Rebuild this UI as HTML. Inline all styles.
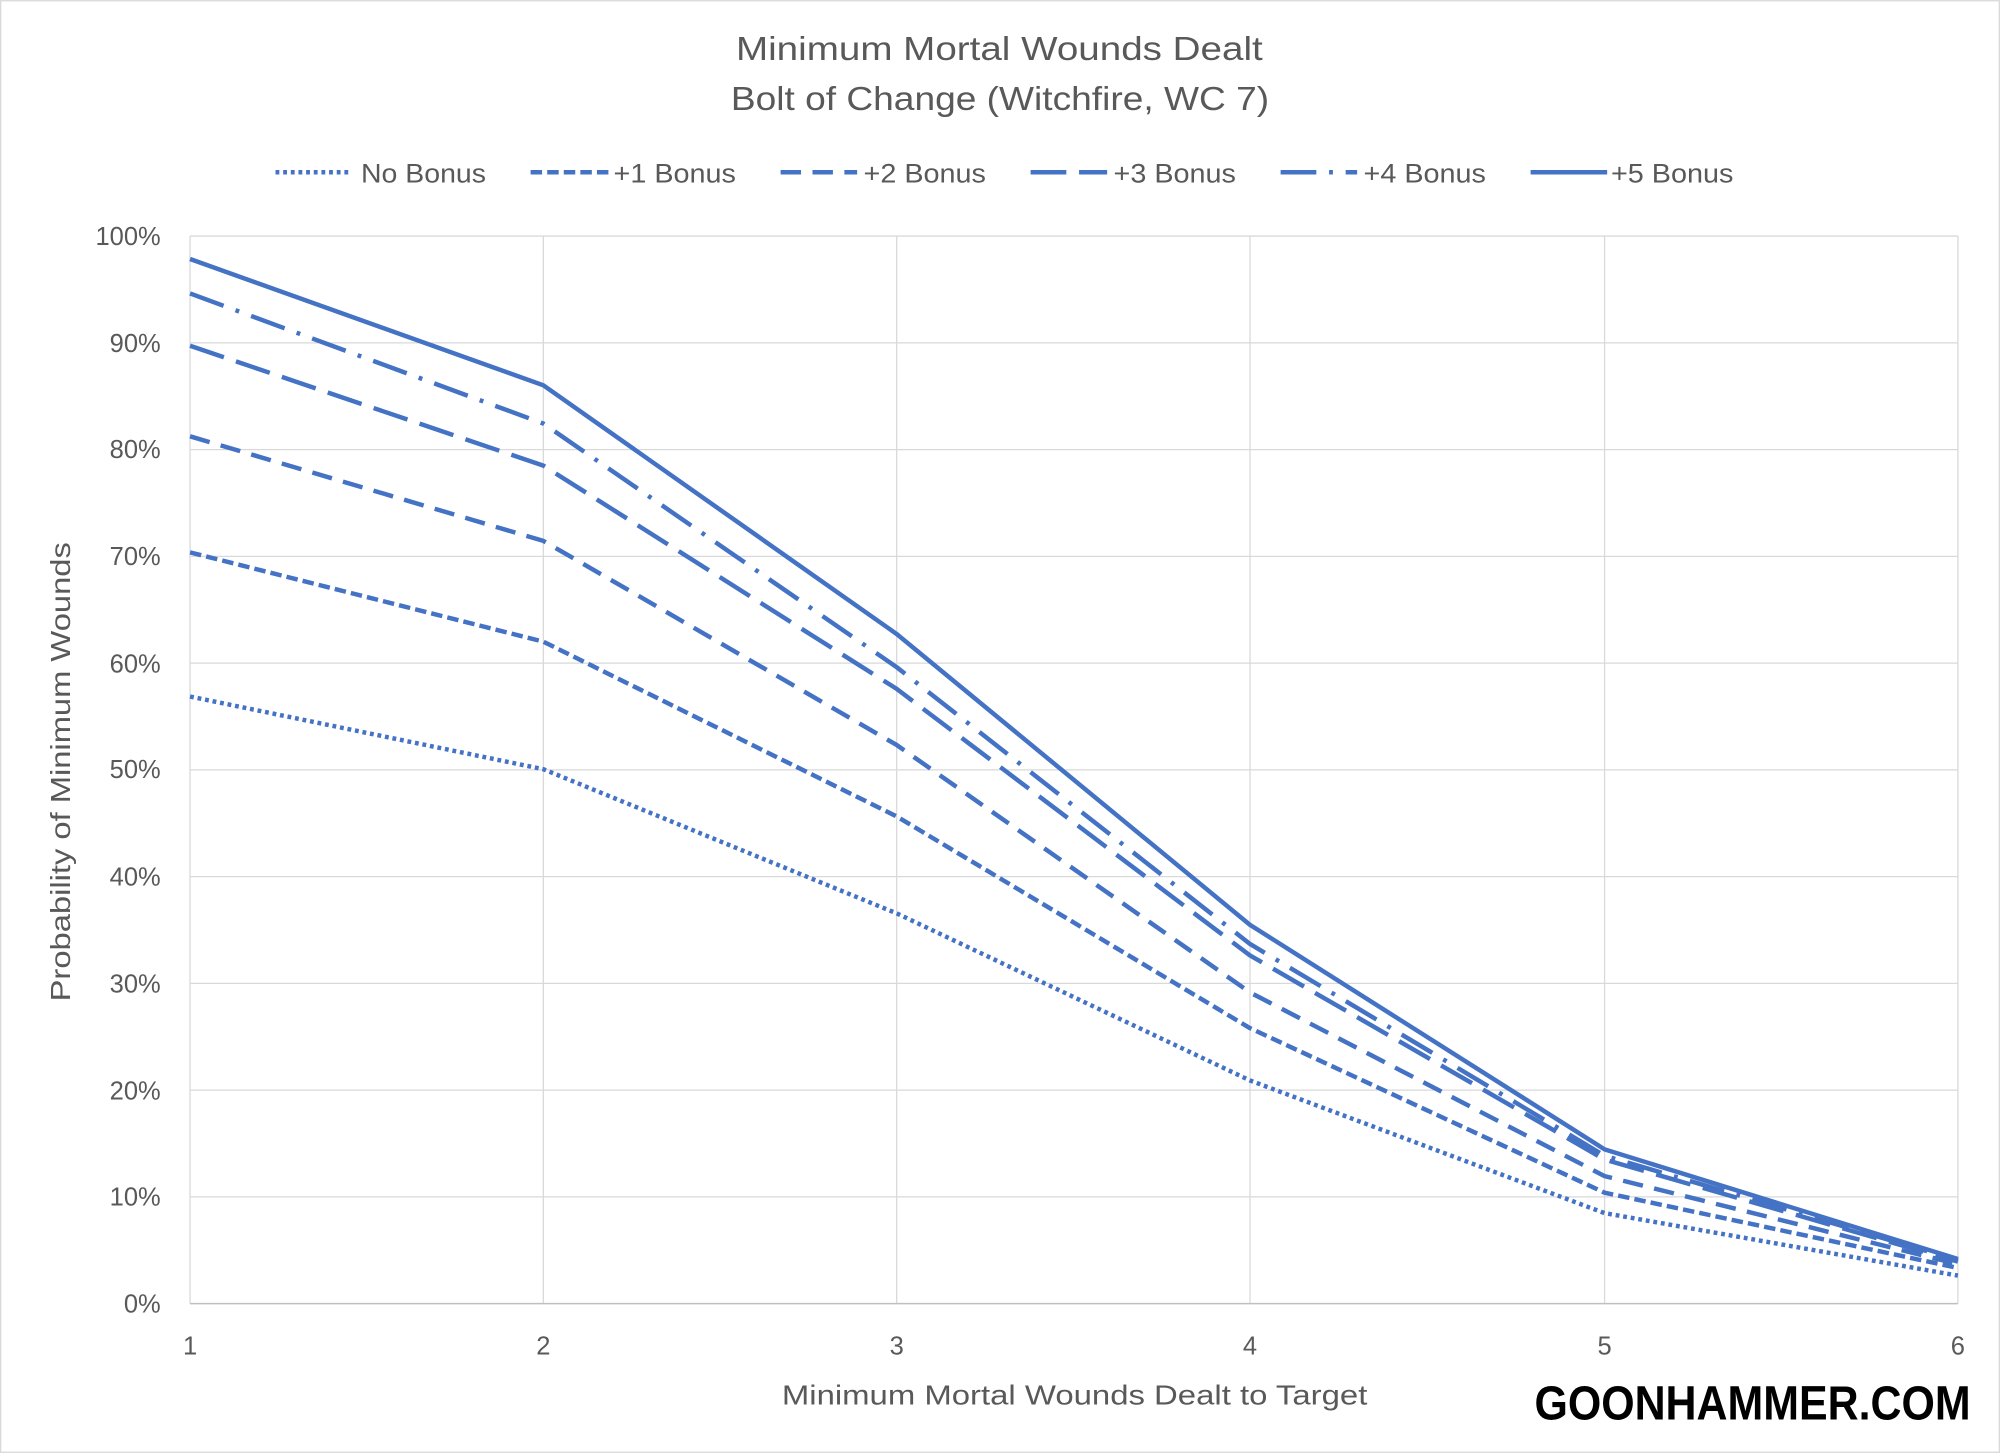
<!DOCTYPE html>
<html><head><meta charset="utf-8"><style>
html,body{margin:0;padding:0;background:#fff;}
svg{display:block;}
text{font-family:"Liberation Sans",sans-serif;fill:#595959;}
</style></head><body>
<svg width="2000" height="1453" viewBox="0 0 1568 1139" xmlns="http://www.w3.org/2000/svg">
<rect x="0.5" y="0.5" width="1567" height="1138" fill="#fff" stroke="#d9d9d9" stroke-width="1"/>
<text x="577" y="47" font-size="26" textLength="413" lengthAdjust="spacingAndGlyphs">Minimum Mortal Wounds Dealt</text>
<text x="573" y="86" font-size="26" textLength="422" lengthAdjust="spacingAndGlyphs">Bolt of Change (Witchfire, WC 7)</text>
<g stroke="#4472C4" stroke-width="3.5" fill="none">
<line x1="216" y1="135" x2="276" y2="135" stroke-dasharray="3,3"/>
<line x1="416" y1="135" x2="478" y2="135" stroke-dasharray="9,4"/>
<line x1="612" y1="135" x2="672" y2="135" stroke-dasharray="16,9"/>
<line x1="808" y1="135" x2="868" y2="135" stroke-dasharray="28,10"/>
<line x1="1004" y1="135" x2="1064" y2="135" stroke-dasharray="28,10,3,10"/>
<line x1="1200" y1="135" x2="1260" y2="135"/>
</g>
<g font-size="21">
<text x="283" y="143" textLength="98" lengthAdjust="spacingAndGlyphs">No Bonus</text>
<text x="481" y="143" textLength="96" lengthAdjust="spacingAndGlyphs">+1 Bonus</text>
<text x="677" y="143" textLength="96" lengthAdjust="spacingAndGlyphs">+2 Bonus</text>
<text x="873" y="143" textLength="96" lengthAdjust="spacingAndGlyphs">+3 Bonus</text>
<text x="1069" y="143" textLength="96" lengthAdjust="spacingAndGlyphs">+4 Bonus</text>
<text x="1263" y="143" textLength="96" lengthAdjust="spacingAndGlyphs">+5 Bonus</text>
</g>
<g stroke="#d9d9d9" stroke-width="1">
<line x1="149" y1="185" x2="1535" y2="185"/>
<line x1="149" y1="268.7" x2="1535" y2="268.7"/>
<line x1="149" y1="352.4" x2="1535" y2="352.4"/>
<line x1="149" y1="436.1" x2="1535" y2="436.1"/>
<line x1="149" y1="519.8" x2="1535" y2="519.8"/>
<line x1="149" y1="603.5" x2="1535" y2="603.5"/>
<line x1="149" y1="687.2" x2="1535" y2="687.2"/>
<line x1="149" y1="770.9" x2="1535" y2="770.9"/>
<line x1="149" y1="854.6" x2="1535" y2="854.6"/>
<line x1="149" y1="938.3" x2="1535" y2="938.3"/>
<line x1="149" y1="185" x2="149" y2="1022"/>
<line x1="426" y1="185" x2="426" y2="1022"/>
<line x1="703" y1="185" x2="703" y2="1022"/>
<line x1="980" y1="185" x2="980" y2="1022"/>
<line x1="1258" y1="185" x2="1258" y2="1022"/>
<line x1="1535" y1="185" x2="1535" y2="1022"/>
</g>
<line x1="149" y1="1022" x2="1535" y2="1022" stroke="#bfbfbf" stroke-width="1.2"/>
<g font-size="20" text-anchor="end">
<text x="126" y="192">100%</text>
<text x="126" y="276">90%</text>
<text x="126" y="359">80%</text>
<text x="126" y="443">70%</text>
<text x="126" y="527">60%</text>
<text x="126" y="610">50%</text>
<text x="126" y="694">40%</text>
<text x="126" y="778">30%</text>
<text x="126" y="862">20%</text>
<text x="126" y="945">10%</text>
<text x="126" y="1029">0%</text>
</g>
<g font-size="20" text-anchor="middle">
<text x="149" y="1062">1</text>
<text x="426" y="1062">2</text>
<text x="703" y="1062">3</text>
<text x="980" y="1062">4</text>
<text x="1258" y="1062">5</text>
<text x="1535" y="1062">6</text>
</g>
<text x="613" y="1101" font-size="22" textLength="459" lengthAdjust="spacingAndGlyphs">Minimum Mortal Wounds Dealt to Target</text>
<text transform="translate(55,785) rotate(-90)" font-size="22" textLength="360" lengthAdjust="spacingAndGlyphs">Probability of Minimum Wounds</text>
<g stroke="#4472C4" stroke-width="3.5" fill="none" stroke-linejoin="round">
<polyline points="149,546 426,603 703,716 980,847 1258,951 1535,1000" stroke-dasharray="3,3"/>
<polyline points="149,433 426,503 703,640 980,806 1258,935 1535,994" stroke-dasharray="9,4"/>
<polyline points="149,342 426,424 703,584 980,778 1258,922 1535,991" stroke-dasharray="16,9"/>
<polyline points="149,271 426,365 703,540 980,749 1258,909 1535,989" stroke-dasharray="28,10"/>
<polyline points="149,230 426,332 703,523 980,740 1258,906 1535,988" stroke-dasharray="28,10,3,10"/>
<polyline points="149,203 426,302 703,497 980,725 1258,901 1535,987"/>
</g>
<text x="1203" y="1113" font-size="38" textLength="342" lengthAdjust="spacingAndGlyphs" style="fill:#000;font-weight:bold">GOONHAMMER.COM</text>
</svg>
</body></html>
